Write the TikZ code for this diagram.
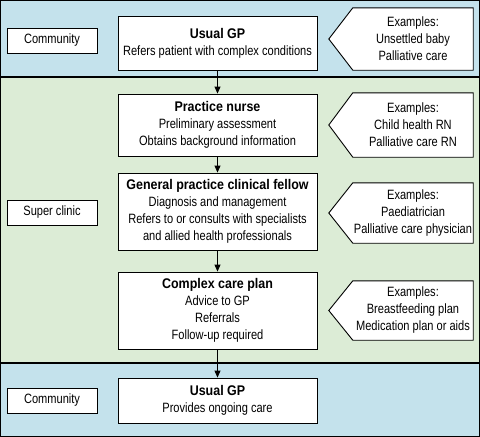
\documentclass[tikz,border=0pt]{standalone}
\usepackage{fontspec}
\setmainfont{Liberation Sans}
\newfontfamily\narrowfont[FakeStretch=0.82]{Liberation Sans}
\newfontfamily\titlefont[FakeStretch=0.89]{Liberation Sans}
\usepackage{tikz}
\usetikzlibrary{arrows.meta}

\definecolor{bandblue}{RGB}{196,226,236}
\definecolor{bandgreen}{RGB}{220,236,214}

\tikzset{
  stagebox/.style={draw, fill=white, line width=0.9pt, align=center, minimum width=199pt, inner sep=2pt},
  placebox/.style={draw, fill=white, line width=0.9pt, minimum width=90pt, minimum height=25pt, inner sep=2pt},
  examplebox/.style={minimum width=120pt, inner sep=2pt},
  exampletext/.style={align=center, font=\narrowfont\fontsize{13.5}{17}\selectfont},
  exampleedge/.style={draw, fill=white, line width=0.9pt, line join=miter},
  flow/.style={line width=0.9pt, -{Triangle[length=7pt,width=6pt]}}
}
\newcommand{\ttl}[1]{{\titlefont\bfseries\fontsize{14}{17}\selectfont #1}}
% outline with a point to the left, drawn behind an example node
\newcommand{\exampleshape}[1]{\path[exampleedge] (#1.north west) -- (#1.north east) -- (#1.south east) -- (#1.south west) -- ([xshift=-24pt]#1.west) -- cycle;}

\begin{document}
\begin{tikzpicture}[x=1pt,y=-1pt,font=\narrowfont\fontsize{13.5}{17}\selectfont]
\useasboundingbox (0,0) rectangle (480,437);
% bands
\fill[bandblue] (0,0) rectangle (480,77);
\fill[bandgreen] (0,77) rectangle (480,363);
\fill[bandblue] (0,363) rectangle (480,437);
\draw[line width=1.6pt] (0,77)--(480,77);
\draw[line width=1.6pt] (0,363)--(480,363);
\draw[line width=1pt] (0.5,0.5) rectangle (479.5,436.5);

% left column
\node[placebox] (comm1) at (52,40.5) {Community};
\node[placebox] (super) at (52,212.5) {Super clinic};
\node[placebox] (comm2) at (52,400.5) {Community};

% middle column
\node[stagebox, minimum height=54pt] (gp1) at (217.5,43.5) {\ttl{Usual GP}\\Refers patient with complex conditions};
\node[stagebox, minimum height=62pt] (nurse) at (217.5,125) {\ttl{Practice nurse}\\Preliminary assessment\\Obtains background information};
\node[stagebox, minimum height=77pt] (fellow) at (217.5,211.5) {\ttl{General practice clinical fellow}\\Diagnosis and management\\Refers to or consults with specialists\\and allied health professionals};
\node[stagebox, minimum height=77pt] (plan) at (217.5,310.5) {\ttl{Complex care plan}\\Advice to GP\\Referrals\\Follow-up required};
\node[stagebox, minimum height=45pt] (gp2) at (217.5,400.5) {\ttl{Usual GP}\\Provides ongoing care};

% right column
\node[examplebox, minimum height=62pt] (ex1) at (413,39) {};
\node[examplebox, minimum height=64pt] (ex2) at (413,125) {};
\node[examplebox, minimum height=60pt] (ex3) at (413,213) {};
\node[examplebox, minimum height=59pt] (ex4) at (413,310.5) {};
\exampleshape{ex1}
\exampleshape{ex2}
\exampleshape{ex3}
\exampleshape{ex4}
\node[exampletext] at (ex1) {Examples:\\Unsettled baby\\Palliative care};
\node[exampletext] at (ex2) {Examples:\\Child health RN\\Palliative care RN};
\node[exampletext] at (ex3) {Examples:\\Paediatrician\\Palliative care physician};
\node[exampletext] at (ex4) {Examples:\\Breastfeeding plan\\Medication plan or aids};

% arrows
\draw[flow] (gp1) -- (nurse);
\draw[flow] (nurse) -- (fellow);
\draw[flow] (fellow) -- (plan);
\draw[flow] (plan) -- (gp2);
\end{tikzpicture}
\end{document}
